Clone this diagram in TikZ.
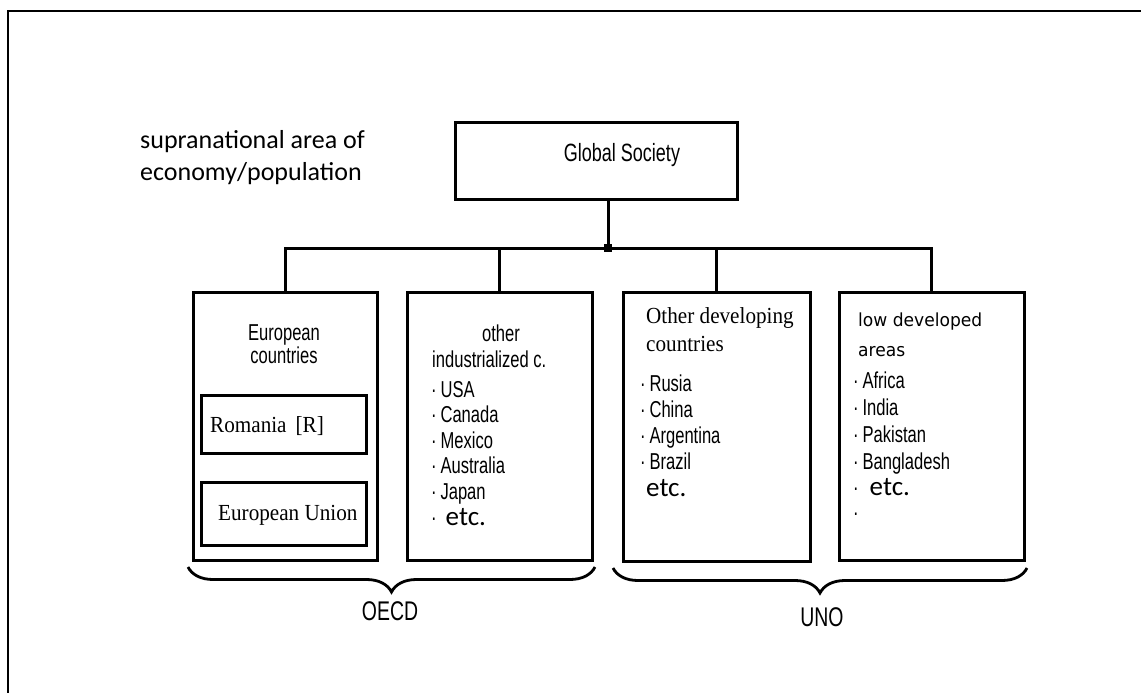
\documentclass[tikz,border=0pt]{standalone}
\usepackage{fontspec}
\usetikzlibrary{decorations.pathreplacing}
\newfontfamily\narrowsf[FakeStretch=0.72]{Liberation Sans}
\newfontfamily\calibf{Carlito}
\newfontfamily\serifrm[FakeStretch=0.92]{Liberation Serif}
\newfontfamily\dvsans[FakeStretch=0.95]{DejaVu Sans}
\tikzset{
  box/.style={draw, line width=3pt, inner sep=0pt, outer sep=0pt, anchor=north west},
  link/.style={line width=3pt},
  nt/.style={font=\narrowsf\fontsize{23}{26}\selectfont, inner sep=0pt, anchor=base west},
  ntc/.style={nt, anchor=base},
  st/.style={font=\serifrm\fontsize{23}{26}\selectfont, inner sep=0pt, anchor=base west},
  dt/.style={font=\dvsans\fontsize{18}{21}\selectfont, inner sep=0pt, anchor=base west},
  etcf/.style={font=\calibf\fontsize{27}{30}\selectfont, inner sep=0pt, anchor=base west},
  bracestyle/.style={line width=2.8pt, decorate, decoration={brace, mirror, amplitude=25pt}},
  lbl/.style={font=\narrowsf\fontsize{27}{30}\selectfont, inner sep=0pt}
}
\begin{document}
\begin{tikzpicture}[x=1pt,y=-1pt]
\useasboundingbox (0,0) rectangle (1141,693);
% outer frame
\draw[line width=1.4pt] (8,693) -- (8,11) -- (1141,11);

% caption
\node[font=\calibf\fontsize{26}{32}\selectfont, inner sep=0pt, anchor=base west] (cap1) at (140,148) {supranational area of};
\node[font=\calibf\fontsize{26}{32}\selectfont, inner sep=0pt, anchor=base west] (cap2) at (140,180) {economy/population};

% top box
\node[box, minimum width=282, minimum height=77] (gs) at (455,122) {};
\node[font=\narrowsf\fontsize{25}{28}\selectfont, inner sep=0pt] (gst) at (622,155) {Global Society};

% four boxes
\node[box, minimum width=184, minimum height=268] (b1) at (193,292) {};
\node[box, minimum width=185, minimum height=268] (b2) at (407,292) {};
\node[box, minimum width=187, minimum height=269] (b3) at (623,292) {};
\node[box, minimum width=185, minimum height=268] (b4) at (839,292) {};

% inner boxes
\node[box, minimum width=165, minimum height=58] (ro) at (201,395) {};
\node[box, minimum width=165, minimum height=63] (eu) at (201,482) {};

% connectors
\coordinate (hub) at (608,248);
\draw[link] (hub |- gs.south) -- (hub);
\draw[link] (b1.north) -- (b1.north |- hub) -- (b4.north |- hub) -- (b4.north);
\draw[link] (b2.north) -- (b2.north |- hub);
\draw[link] (b3.north) -- (b3.north |- hub);
\node[fill, minimum size=8pt, inner sep=0pt] (hubdot) at (hub) {};

% box 1 text
\node[ntc] (b1a) at (284,340) {European};
\node[ntc] (b1b) at (284,363) {countries};
\node[st] (rot) at (210,432) {Romania\hspace{9pt}[R]};
\node[st] (eut) at (218,520) {European Union};

% box 2 text
\node[ntc] (b2a) at (501,341) {other};
\node[nt] (b2b) at (432,367) {industrialized c.};
\foreach \t [count=\i] in {USA,Canada,Mexico,Australia,Japan}
  \node[nt] (b2l\i) at (431,{397+25.5*(\i-1)}) {·\,\t};
\node[nt] (b2e) at (431,525) {·\hspace{9pt}{\calibf\fontsize{27}{30}\selectfont etc.}};

% box 3 text
\node[st] (b3a) at (646,323) {Other developing};
\node[st] (b3b) at (646,351) {countries};
\foreach \t [count=\i] in {Rusia,China,Argentina,Brazil}
  \node[nt] (b3l\i) at (640,{391+26*(\i-1)}) {·\,\t};
\node[etcf] (b3e) at (646,496) {etc.};

% box 4 text
\node[dt] (b4a) at (858,326) {low developed};
\node[dt] (b4b) at (858,356) {areas};
\foreach \t [count=\i] in {Africa,India,Pakistan,Bangladesh}
  \node[nt] (b4l\i) at (853,{388+27*(\i-1)}) {·\,\t};
\node[nt] (b4e) at (853,495) {·\hspace{11pt}{\calibf\fontsize{27}{30}\selectfont etc.}};
\node[nt] (b4f) at (853,520) {·};

% braces
\coordinate (oL) at (188,567);
\coordinate (oR) at (595,567);
\coordinate (uL) at (613,568);
\coordinate (uR) at (1027,568);
\draw[bracestyle] (oL) -- (oR);
\draw[bracestyle] (uL) -- (uR);
\node[lbl] (oecd) at (390,611) {OECD};
\node[lbl] (uno) at (822,617) {UNO};
\end{tikzpicture}
\end{document}
